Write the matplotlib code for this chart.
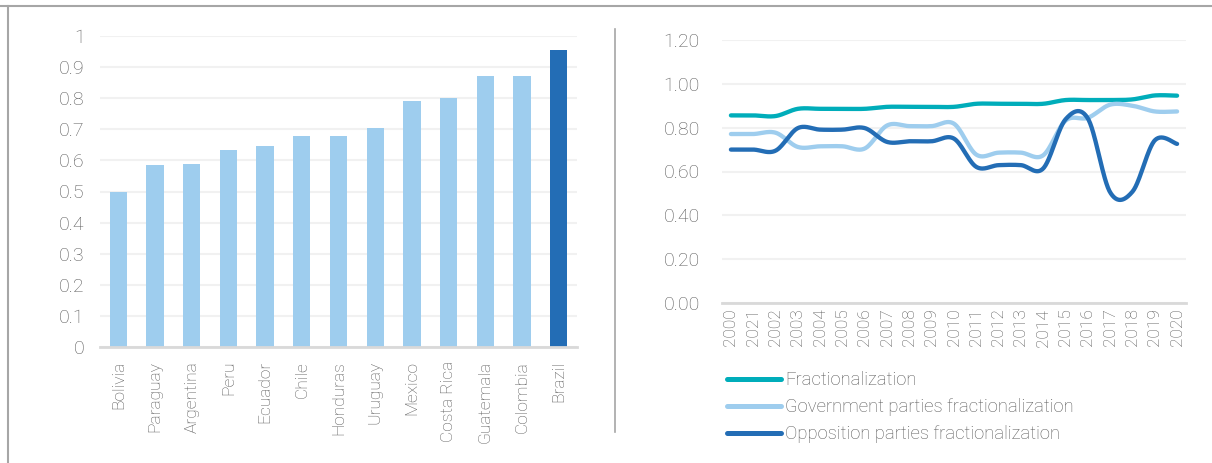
import numpy as np
import matplotlib
matplotlib.use('Agg')
from matplotlib import pyplot as plt
from matplotlib.lines import Line2D

plt.rcParams['font.family'] = ['Roboto', 'DejaVu Sans']
plt.rcParams['font.weight'] = 'light'

countries = ['Bolivia', 'Paraguay', 'Argentina', 'Peru', 'Ecuador', 'Chile', 'Honduras',
             'Uruguay', 'Mexico', 'Costa Rica', 'Guatemala', 'Colombia', 'Brazil']
fract_index = [0.50, 0.585, 0.59, 0.635, 0.645, 0.68, 0.68, 0.705, 0.79, 0.80, 0.87, 0.87, 0.955]

years = ['2000', '2021', '2002', '2003', '2004', '2005', '2006', '2007', '2008', '2009', '2010',
         '2011', '2012', '2013', '2014', '2015', '2016', '2017', '2018', '2019', '2020']
fractionalization = [0.856, 0.856, 0.853, 0.886, 0.886, 0.886, 0.886, 0.895, 0.895, 0.895, 0.895,
                     0.909, 0.909, 0.909, 0.909, 0.926, 0.926, 0.926, 0.929, 0.947, 0.946]
gov_fract = [0.771, 0.771, 0.777, 0.712, 0.715, 0.715, 0.705, 0.810, 0.807, 0.807, 0.818,
             0.677, 0.686, 0.686, 0.674, 0.832, 0.845, 0.905, 0.900, 0.874, 0.874]
opp_fract = [0.700, 0.700, 0.695, 0.798, 0.791, 0.791, 0.798, 0.735, 0.738, 0.738, 0.750,
             0.621, 0.629, 0.629, 0.614, 0.838, 0.842, 0.505, 0.508, 0.742, 0.726]

TEXT = '#595959'
GRID = '#f1f1f1'
LIGHT = '#9ecdee'
DARK = '#236db5'
TEAL = '#00adba'


def smooth(y, n=30):
    # bezier smoothing through every point, like a spreadsheet "smoothed line"
    y = np.asarray(y, dtype=float)
    x = np.arange(len(y), dtype=float)
    xs, ys = [], []
    for i in range(len(y) - 1):
        i0, i3 = max(i - 1, 0), min(i + 2, len(y) - 1)
        p0 = np.array([x[i], y[i]])
        p3 = np.array([x[i + 1], y[i + 1]])
        c1 = p0 + (np.array([x[i + 1], y[i + 1]]) - np.array([x[i0], y[i0]])) / 6
        c2 = p3 - (np.array([x[i3], y[i3]]) - np.array([x[i], y[i]])) / 6
        t = np.linspace(0, 1, n)[:, None]
        pts = (1 - t) ** 3 * p0 + 3 * (1 - t) ** 2 * t * c1 + 3 * (1 - t) * t ** 2 * c2 + t ** 3 * p3
        xs.append(pts[:, 0])
        ys.append(pts[:, 1])
    return np.concatenate(xs), np.concatenate(ys)


fig = plt.figure(figsize=(12.12, 4.63), dpi=100)
W, H = 1212, 463

# --- bar chart ---
ax1 = fig.add_axes([100 / W, 1 - 347 / H, 477 / W, 311 / H])
colors = [LIGHT] * (len(countries) - 1) + [DARK]
ax1.bar(range(len(countries)), fract_index, width=0.47, color=colors, zorder=3)
ax1.set_xlim(-0.5, len(countries) - 0.5)
ax1.set_ylim(0, 1)
ax1.set_yticks(np.arange(0, 1.01, 0.1))
ax1.set_yticklabels(['0', '0.1', '0.2', '0.3', '0.4', '0.5', '0.6', '0.7', '0.8', '0.9', '1'])
ax1.set_xticks(range(len(countries)))
ax1.set_xticklabels(countries, rotation=90)
ax1.tick_params(axis='y', length=0, pad=11, labelsize=14, labelcolor=TEXT)
ax1.tick_params(axis='x', length=0, pad=10, labelsize=12.5, labelcolor=TEXT)
ax1.grid(axis='y', color=GRID, linewidth=1.5, zorder=0)
for s in ['top', 'right', 'left']:
    ax1.spines[s].set_visible(False)
ax1.spines['bottom'].set_color('#d9d9d9')
ax1.spines['bottom'].set_linewidth(2)
ax1.spines['bottom'].set_zorder(4)

# --- line chart ---
ax2 = fig.add_axes([722 / W, 1 - 303 / H, 464 / W, 263 / H])
series = [
    (fractionalization, TEAL, 'Fractionalization'),
    (gov_fract, LIGHT, 'Government parties fractionalization'),
    (opp_fract, DARK, 'Opposition parties fractionalization'),
]
for vals, col, lab in series:
    sx, sy = smooth(vals)
    ax2.plot(sx, sy, color=col, linewidth=3.1, solid_capstyle='round', label=lab, zorder=3)
ax2.set_xlim(-0.4, len(years) - 0.6)
ax2.set_ylim(0, 1.2)
ax2.set_yticks(np.arange(0, 1.21, 0.2))
ax2.set_yticklabels([f'{v:.2f}' for v in np.arange(0, 1.21, 0.2)])
ax2.set_xticks(range(len(years)))
ax2.set_xticklabels(years, rotation=90)
ax2.tick_params(axis='y', length=0, pad=16, labelsize=14, labelcolor=TEXT)
ax2.tick_params(axis='x', length=0, pad=4, labelsize=12.5, labelcolor=TEXT)
ax2.grid(axis='y', color=GRID, linewidth=1.5, zorder=0)
for s in ['top', 'right', 'left']:
    ax2.spines[s].set_visible(False)
ax2.spines['bottom'].set_color('#d9d9d9')
ax2.spines['bottom'].set_linewidth(2)

handles = [Line2D([], [], color=c, linewidth=3.6, solid_capstyle='round') for _, c, _ in series]
fig.legend(handles, [lab for _, _, lab in series], loc='upper left',
           bbox_to_anchor=(727 / W, 1 - 371 / H), frameon=False, fontsize=13.3,
           labelcolor=TEXT, handlelength=2.9, handletextpad=0.25, labelspacing=0.5,
           borderaxespad=0, borderpad=0)

# panel frame and divider
fig.add_artist(Line2D([0, 1], [1 - 6 / H, 1 - 6 / H], transform=fig.transFigure,
                      color='#a6a6a6', linewidth=1.5))
fig.add_artist(Line2D([8 / W, 8 / W], [0, 1 - 6 / H], transform=fig.transFigure,
                      color='#a6a6a6', linewidth=1.5))
fig.add_artist(Line2D([615 / W, 615 / W], [1 - 432 / H, 1 - 29 / H], transform=fig.transFigure,
                      color='#a6a6a6', linewidth=1.2))

fig.savefig('out.png', dpi=100)
